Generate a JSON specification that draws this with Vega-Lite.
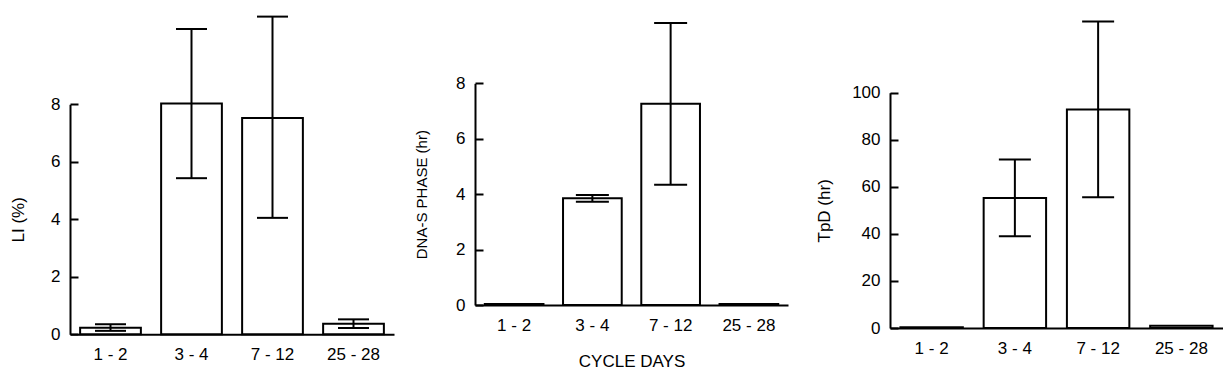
{
  "$schema": "https://vega.github.io/schema/vega-lite/v6.json",
  "background": "white",
  "padding": {"left": 9, "top": 15, "right": 0, "bottom": 0},
  "bounds": "flush",
  "spacing": 81,
  "config": {
    "font": "Liberation Sans",
    "view": {"stroke": null},
    "axis": {
      "domainColor": "black", "domainWidth": 2,
      "tickColor": "black", "tickWidth": 2,
      "labelColor": "black", "titleColor": "black",
      "labelFontSize": 17, "titleFontSize": 17, "titleFontWeight": "normal",
      "grid": false
    },
    "axisX": {"ticks": false, "labelAngle": 0, "labelPadding": 12, "titlePadding": 20},
    "axisY": {"ticks": true, "tickSize": -8, "labelPadding": 18}
  },
  "datasets": {
    "li": [
      {"days": "1 - 2", "mean": 0.23, "lo": 0.12, "hi": 0.35},
      {"days": "3 - 4", "mean": 8.03, "lo": 5.43, "hi": 10.62},
      {"days": "7 - 12", "mean": 7.52, "lo": 4.05, "hi": 11.05},
      {"days": "25 - 28", "mean": 0.37, "lo": 0.22, "hi": 0.52}
    ],
    "dna": [
      {"days": "1 - 2", "mean": 0.04, "lo": null, "hi": null},
      {"days": "3 - 4", "mean": 3.85, "lo": 3.73, "hi": 3.97},
      {"days": "7 - 12", "mean": 7.26, "lo": 4.34, "hi": 10.18},
      {"days": "25 - 28", "mean": 0.04, "lo": null, "hi": null}
    ],
    "tpd": [
      {"days": "1 - 2", "mean": 0.3, "lo": null, "hi": null},
      {"days": "3 - 4", "mean": 55.3, "lo": 39.0, "hi": 71.6},
      {"days": "7 - 12", "mean": 92.9, "lo": 55.6, "hi": 130.3},
      {"days": "25 - 28", "mean": 1.0, "lo": null, "hi": null}
    ]
  },
  "hconcat": [
    {
      "data": {"name": "li"},
      "width": 324,
      "height": 318.3,
      "encoding": {
        "x": {"field": "days", "type": "nominal", "sort": null,
              "scale": {"paddingInner": 0.25, "paddingOuter": 0.125},
              "axis": {"title": null}}
      },
      "layer": [
        {"mark": {"type": "bar", "fill": "white", "stroke": "black", "strokeWidth": 2},
         "encoding": {"y": {"field": "mean", "type": "quantitative", "title": "LI (%)",
           "scale": {"domain": [0, 8], "range": [318.3, 88.3], "nice": false},
           "axis": {"values": [0, 2, 4, 6, 8], "titlePadding": 23}}}},
        {"mark": {"type": "rule", "color": "black", "strokeWidth": 2},
         "encoding": {"y": {"field": "lo", "type": "quantitative", "title": "LI (%)"}, "y2": {"field": "hi"}}},
        {"mark": {"type": "tick", "color": "black", "opacity": 1, "size": 31, "thickness": 2},
         "encoding": {"y": {"field": "lo", "type": "quantitative", "title": "LI (%)"}}},
        {"mark": {"type": "tick", "color": "black", "opacity": 1, "size": 31, "thickness": 2},
         "encoding": {"y": {"field": "hi", "type": "quantitative", "title": "LI (%)"}}}
      ]
    },
    {
      "data": {"name": "dna"},
      "width": 334,
      "height": 289,
      "encoding": {
        "x": {"field": "days", "type": "nominal", "sort": null,
              "scale": {"paddingInner": 0.25, "paddingOuter": 0.125, "range": [0, 313]},
              "axis": {"title": "CYCLE DAYS"}}
      },
      "layer": [
        {"mark": {"type": "bar", "fill": "white", "stroke": "black", "strokeWidth": 2},
         "encoding": {"y": {"field": "mean", "type": "quantitative", "title": "DNA-S PHASE (hr)",
           "scale": {"domain": [0, 8], "range": [289, 67.3], "nice": false},
           "axis": {"values": [0, 2, 4, 6, 8], "titlePadding": 26, "titleFontSize": 15}}}},
        {"mark": {"type": "rule", "color": "black", "strokeWidth": 2},
         "encoding": {"y": {"field": "lo", "type": "quantitative", "title": "DNA-S PHASE (hr)"}, "y2": {"field": "hi"}}},
        {"mark": {"type": "tick", "color": "black", "opacity": 1, "size": 33, "thickness": 2},
         "encoding": {"y": {"field": "lo", "type": "quantitative", "title": "DNA-S PHASE (hr)"}}},
        {"mark": {"type": "tick", "color": "black", "opacity": 1, "size": 33, "thickness": 2},
         "encoding": {"y": {"field": "hi", "type": "quantitative", "title": "DNA-S PHASE (hr)"}}}
      ]
    },
    {
      "data": {"name": "tpd"},
      "width": 333,
      "height": 312,
      "encoding": {
        "x": {"field": "days", "type": "nominal", "sort": null,
              "scale": {"paddingInner": 0.25, "paddingOuter": 0.125},
              "axis": {"title": null}}
      },
      "layer": [
        {"mark": {"type": "bar", "fill": "white", "stroke": "black", "strokeWidth": 2},
         "encoding": {"y": {"field": "mean", "type": "quantitative", "title": "TpD (hr)",
           "scale": {"domain": [0, 100], "range": [312, 76.7], "nice": false},
           "axis": {"values": [0, 20, 40, 60, 80, 100], "titlePadding": 18}}}},
        {"mark": {"type": "rule", "color": "black", "strokeWidth": 2},
         "encoding": {"y": {"field": "lo", "type": "quantitative", "title": "TpD (hr)"}, "y2": {"field": "hi"}}},
        {"mark": {"type": "tick", "color": "black", "opacity": 1, "size": 32, "thickness": 2},
         "encoding": {"y": {"field": "lo", "type": "quantitative", "title": "TpD (hr)"}}},
        {"mark": {"type": "tick", "color": "black", "opacity": 1, "size": 32, "thickness": 2},
         "encoding": {"y": {"field": "hi", "type": "quantitative", "title": "TpD (hr)"}}}
      ]
    }
  ]
}
